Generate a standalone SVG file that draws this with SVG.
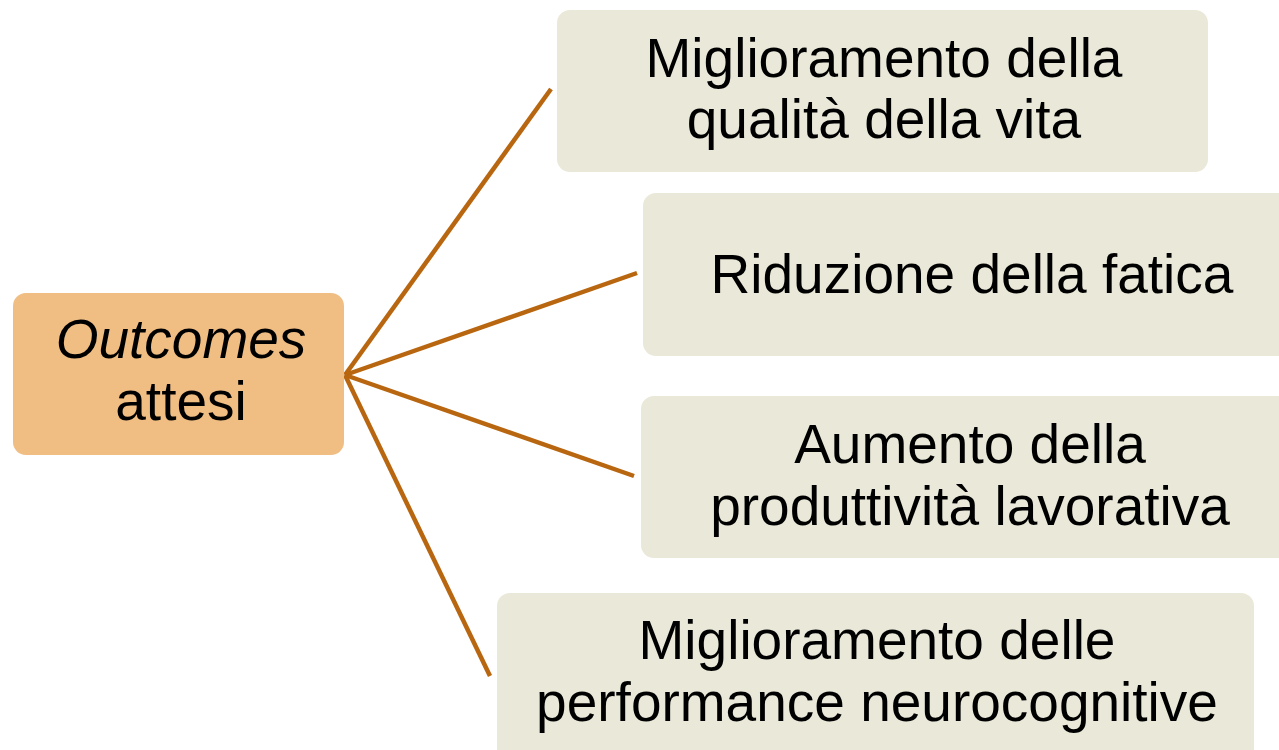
<svg xmlns="http://www.w3.org/2000/svg" width="1279" height="750" viewBox="0 0 1279 750">
<style>
.t{font-family:"Liberation Sans",Arial,sans-serif;font-size:55px;fill:#000;text-anchor:middle}
.b{fill:#EAE8D8}
.o{fill:#F0BD83}
.c{stroke:#B8660F;stroke-width:4.5;fill:none;stroke-linecap:butt}
</style>
<rect width="1279" height="750" fill="#fff"/>
<g id="connectors">
<line class="c" x1="345" y1="375" x2="551" y2="89"/>
<line class="c" x1="345" y1="375" x2="637" y2="273"/>
<line class="c" x1="345" y1="375" x2="634" y2="476"/>
<line class="c" x1="345" y1="375" x2="490" y2="676"/>
</g>
<g id="outcomes">
<rect class="o" x="13" y="293" width="331" height="162" rx="13"/>
<text class="t" x="181" y="358" font-style="italic">Outcomes</text>
<text class="t" x="181" y="420">attesi</text>
</g>
<g id="qualita">
<rect class="b" x="557" y="10" width="651" height="162" rx="13"/>
<text class="t" x="884" y="77">Miglioramento della</text>
<text class="t" x="884" y="138">qualità della vita</text>
</g>
<g id="fatica">
<rect class="b" x="643" y="193" width="660" height="163" rx="13"/>
<text class="t" x="972" y="293">Riduzione della fatica</text>
</g>
<g id="produttivita">
<rect class="b" x="641" y="396" width="662" height="162" rx="13"/>
<text class="t" x="970" y="463">Aumento della</text>
<text class="t" x="970" y="525">produttività lavorativa</text>
</g>
<g id="neurocognitive">
<rect class="b" x="497" y="593" width="757" height="175" rx="13"/>
<text class="t" x="877" y="659">Miglioramento delle</text>
<text class="t" x="877" y="721">performance neurocognitive</text>
</g>
</svg>
